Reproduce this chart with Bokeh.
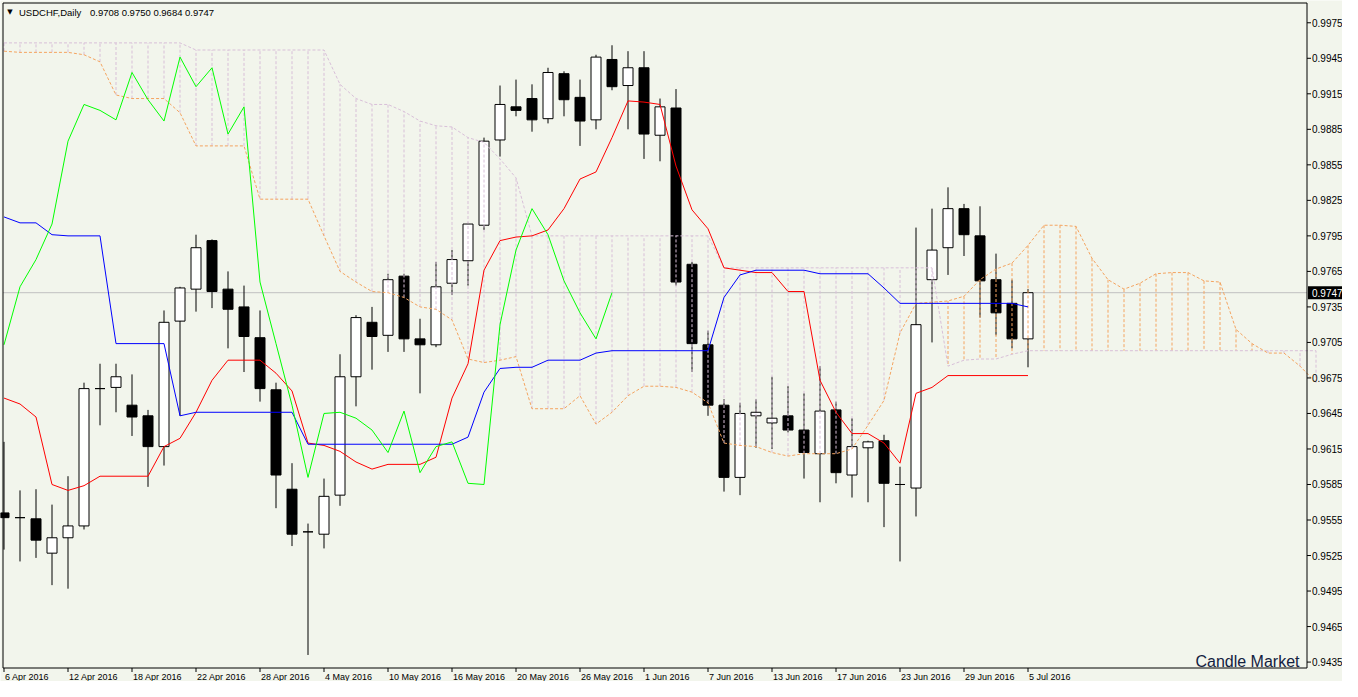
from bokeh.plotting import figure
from bokeh.models import Range1d, ColumnDataSource
from bokeh.core.properties import value
from bokeh.embed import file_html
from bokeh.resources import INLINE

BG = "#F2F5EC"

# ---- daily USDCHF candles (bar index 0 = 6 Apr 2016) ----
opens = [0.9561, 0.9557, 0.9556, 0.9527, 0.9540, 0.9550, 0.9666, 0.9667, 0.9652, 0.9643,
         0.9617, 0.9723, 0.9750, 0.9791, 0.9750, 0.9735, 0.9709, 0.9665, 0.9581, 0.9545,
         0.9543, 0.9576, 0.9676, 0.9722, 0.9711, 0.9761, 0.9708, 0.9703, 0.9755, 0.9774,
         0.9804, 0.9876, 0.9904, 0.9911, 0.9894, 0.9932, 0.9912, 0.9893, 0.9944, 0.9922,
         0.9937, 0.9880, 0.9903, 0.9771, 0.9703, 0.9652, 0.9591, 0.9643, 0.9637, 0.9643,
         0.9631, 0.9611, 0.9648, 0.9593, 0.9616, 0.9622, 0.9585, 0.9582, 0.9758, 0.9785,
         0.9818, 0.9795, 0.9758, 0.9738, 0.9708]
highs = [0.9621, 0.9580, 0.9581, 0.9568, 0.9592, 0.9671, 0.9687, 0.9687, 0.9678, 0.9648,
         0.9732, 0.9752, 0.9796, 0.9792, 0.9765, 0.9753, 0.9732, 0.9671, 0.9603, 0.9552,
         0.9590, 0.9695, 0.9728, 0.9735, 0.9763, 0.9763, 0.9725, 0.9773, 0.9783, 0.9806,
         0.9878, 0.9922, 0.9927, 0.9923, 0.9937, 0.9934, 0.9927, 0.9948, 0.9956, 0.9951,
         0.9951, 0.9911, 0.9919, 0.9773, 0.9715, 0.9657, 0.9654, 0.9657, 0.9676, 0.9668,
         0.9662, 0.9685, 0.9655, 0.9641, 0.9622, 0.9627, 0.9600, 0.9802, 0.9818, 0.9836,
         0.9822, 0.9820, 0.9780, 0.9758, 0.9750]
lows = [0.9530, 0.9520, 0.9523, 0.9500, 0.9497, 0.9547, 0.9635, 0.9646, 0.9626, 0.9583,
        0.9601, 0.9643, 0.9731, 0.9734, 0.9700, 0.9680, 0.9655, 0.9565, 0.9533, 0.9441,
        0.9531, 0.9567, 0.9651, 0.9682, 0.9697, 0.9697, 0.9662, 0.9701, 0.9745, 0.9753,
        0.9800, 0.9862, 0.9896, 0.9883, 0.9890, 0.9896, 0.9871, 0.9885, 0.9918, 0.9885,
        0.9860, 0.9858, 0.9753, 0.9680, 0.9643, 0.9579, 0.9576, 0.9616, 0.9615, 0.9629,
        0.9590, 0.9570, 0.9586, 0.9574, 0.9570, 0.9549, 0.9520, 0.9558, 0.9705, 0.9762,
        0.9778, 0.9726, 0.9711, 0.9700, 0.9684]
closes = [0.9557, 0.9557, 0.9538, 0.9540, 0.9550, 0.9666, 0.9666, 0.9676, 0.9642, 0.9617,
          0.9722, 0.9751, 0.9785, 0.9748, 0.9733, 0.9710, 0.9666, 0.9593, 0.9543, 0.9545,
          0.9575, 0.9676, 0.9726, 0.9710, 0.9758, 0.9708, 0.9703, 0.9752, 0.9775, 0.9805,
          0.9875, 0.9906, 0.9901, 0.9893, 0.9933, 0.9910, 0.9892, 0.9946, 0.9921, 0.9937,
          0.9881, 0.9904, 0.9756, 0.9704, 0.9652, 0.9591, 0.9645, 0.9646, 0.9641, 0.9631,
          0.9612, 0.9647, 0.9595, 0.9617, 0.9621, 0.9586, 0.9585, 0.9720, 0.9783, 0.9818,
          0.9796, 0.9757, 0.9730, 0.9708, 0.9747]

# ---- Ichimoku lines ----
tenkan = [0.9658, 0.9653, 0.9642, 0.9585, 0.9580, 0.9584, 0.9592, 0.9592, 0.9592, 0.9592,
          0.9617, 0.9624, 0.9646, 0.9673, 0.9690, 0.9690, 0.9690, 0.9679, 0.9664, 0.9620,
          0.9618, 0.9613, 0.9604, 0.9598, 0.9602, 0.9602, 0.9602, 0.9608, 0.9658, 0.9687,
          0.9766, 0.9791, 0.9794, 0.9795, 0.9800, 0.9818, 0.9843, 0.9849, 0.9878, 0.9909,
          0.9908, 0.9906, 0.9854, 0.9817, 0.9801, 0.9768, 0.9766, 0.9764, 0.9764, 0.9748,
          0.9748, 0.9673, 0.9646, 0.9628, 0.9628, 0.9620, 0.9603, 0.9662, 0.9667, 0.9677,
          0.9677, 0.9677, 0.9677, 0.9677, 0.9677]
kijun = [0.9811, 0.9806, 0.9806, 0.9796, 0.9795, 0.9795, 0.9795, 0.9704, 0.9704, 0.9704,
         0.9704, 0.9643, 0.9646, 0.9646, 0.9646, 0.9646, 0.9646, 0.9646, 0.9646, 0.9619,
         0.9619, 0.9619, 0.9619, 0.9619, 0.9619, 0.9619, 0.9619, 0.9619, 0.9619, 0.9625,
         0.9663, 0.9683, 0.9684, 0.9684, 0.9690, 0.9690, 0.9690, 0.9696, 0.9698, 0.9698,
         0.9698, 0.9698, 0.9698, 0.9698, 0.9698, 0.9743, 0.9762, 0.9766, 0.9766, 0.9766,
         0.9766, 0.9763, 0.9763, 0.9763, 0.9763, 0.9751, 0.9738, 0.9738, 0.9738, 0.9738,
         0.9738, 0.9738, 0.9738, 0.9738, 0.9735]
chikou = [0.9703, 0.9752, 0.9775, 0.9805, 0.9875, 0.9906, 0.9901, 0.9893, 0.9933, 0.9910,
          0.9892, 0.9946, 0.9921, 0.9937, 0.9881, 0.9904, 0.9756, 0.9704, 0.9652, 0.9591,
          0.9645, 0.9646, 0.9641, 0.9631, 0.9612, 0.9647, 0.9595, 0.9617, 0.9621, 0.9586,
          0.9585, 0.9720, 0.9783, 0.9818, 0.9796, 0.9757, 0.9730, 0.9708, 0.9747]
span_a = [0.9951, 0.9950, 0.9950, 0.9950, 0.9950, 0.9948, 0.9942, 0.9914, 0.9911, 0.9911,
          0.9911, 0.9899, 0.9871, 0.9871, 0.9871, 0.9871, 0.9826, 0.9826, 0.9826, 0.9826,
          0.9795, 0.9765, 0.9756, 0.9748, 0.9747, 0.9743, 0.9735, 0.9733, 0.9724, 0.9691,
          0.9688, 0.9690, 0.9693, 0.9649, 0.9649, 0.9649, 0.9660, 0.9636, 0.9646, 0.9660,
          0.9668, 0.9668, 0.9667, 0.9663, 0.9654, 0.9620, 0.9618, 0.9617, 0.9612, 0.9609,
          0.9611, 0.9611, 0.9611, 0.9615, 0.9635, 0.9656, 0.9713, 0.9738, 0.9739, 0.9740,
          0.9744, 0.9758, 0.9767, 0.9772, 0.9787, 0.9804, 0.9804, 0.9803, 0.9776, 0.9758,
          0.9750, 0.9755, 0.9763, 0.9764, 0.9764, 0.9757, 0.9756, 0.9716, 0.9704, 0.9696,
          0.9696, 0.9685, 0.9671]
span_b = [0.9958, 0.9958, 0.9958, 0.9958, 0.9958, 0.9958, 0.9958, 0.9958, 0.9958, 0.9958,
          0.9958, 0.9958, 0.9952, 0.9952, 0.9952, 0.9952, 0.9952, 0.9952, 0.9952, 0.9952,
          0.9952, 0.9923, 0.9911, 0.9906, 0.9906, 0.9900, 0.9892, 0.9888, 0.9887, 0.9878,
          0.9874, 0.9860, 0.9844, 0.9795, 0.9795, 0.9795, 0.9795, 0.9795, 0.9795, 0.9795,
          0.9795, 0.9795, 0.9795, 0.9795, 0.9795, 0.9768, 0.9768, 0.9768, 0.9768, 0.9768,
          0.9768, 0.9768, 0.9768, 0.9768, 0.9768, 0.9768, 0.9768, 0.9768, 0.9768, 0.9685,
          0.9690, 0.9691, 0.9691, 0.9695, 0.9698, 0.9698, 0.9698, 0.9698, 0.9698, 0.9698,
          0.9698, 0.9698, 0.9698, 0.9698, 0.9698, 0.9698, 0.9698, 0.9698, 0.9698, 0.9698,
          0.9698, 0.9698, 0.9698]

price_ticks = [0.9435, 0.9465, 0.9495, 0.9525, 0.9555, 0.9585, 0.9615, 0.9645, 0.9675, 0.9705,
               0.9735, 0.9765, 0.9795, 0.9825, 0.9855, 0.9885, 0.9915, 0.9945, 0.9975]
date_tick_bars = [0, 4, 8, 12, 16, 20, 24, 28, 32, 36, 40, 44, 48, 52, 56, 60, 64]
date_labels = ["6 Apr 2016", "12 Apr 2016", "18 Apr 2016", "22 Apr 2016", "28 Apr 2016",
               "4 May 2016", "10 May 2016", "16 May 2016", "20 May 2016", "26 May 2016",
               "1 Jun 2016", "7 Jun 2016", "13 Jun 2016", "17 Jun 2016", "23 Jun 2016",
               "29 Jun 2016", "5 Jul 2016"]
symbol_text = "USDCHF,Daily"
brand_text = "Candle Market"

bars = list(range(len(closes)))
cloud_bars = list(range(len(span_a)))
chikou_bars = list(range(len(chikou)))

# ---- layout (canvas pixels) ----
W, H = 1342, 681
BPX = 16.0                      # pixels per bar
L_PX, R_PX = 2.5, 1306.5        # chart border (line centres)
T_PX, B_PX = 2.5, 667.5
X0 = -1.0 / BPX                 # bar 0 sits 1 px right of the left border
X1 = X0 + (R_PX - L_PX) / BPX
Y1, Y0 = 0.99917, 0.9430
PP = (B_PX - T_PX) / (Y1 - Y0)  # pixels per price unit


def hx(px):
    return X0 + (px - L_PX) / BPX


def vy(py):
    return Y1 - (py - T_PX) / PP


p = figure(width=W, height=H, x_range=Range1d(hx(0), hx(W)), y_range=Range1d(vy(H), vy(0)),
           output_backend="svg", toolbar_location=None, x_axis_location=None,
           y_axis_location=None, min_border=0, min_border_left=0, min_border_right=0,
           min_border_top=0, min_border_bottom=0, outline_line_color=None,
           background_fill_color=BG, border_fill_color=BG)
p.grid.visible = False

FONT = value("Liberation Sans")

# current price line
p.segment(x0=[X0], y0=[closes[-1]], x1=[X1], y1=[closes[-1]], line_color="#C0C0C0", line_width=1)

# candles
body_top = [max(o, c) for o, c in zip(opens, closes)]
body_bot = [min(o, c) for o, c in zip(opens, closes)]
body_fill = ["white" if c >= o else "black" for o, c in zip(opens, closes)]
src = ColumnDataSource(dict(x=bars, h=highs, l=lows, top=body_top, bottom=body_bot, fill=body_fill))
p.segment(x0="x", y0="l", x1="x", y1="h", source=src, line_color="black", line_width=1)
p.vbar(x="x", width=10.0 / BPX, top="top", bottom="bottom", fill_color="fill",
       line_color="black", line_width=1, source=src)

# Ichimoku cloud
hatch_col = ["#F4A460" if a >= b else "#D8BFD8" for a, b in zip(span_a, span_b)]
csrc = ColumnDataSource(dict(x=cloud_bars, a=span_a, b=span_b, col=hatch_col))
p.segment(x0="x", y0="a", x1="x", y1="b", line_color="col", line_dash="3 2",
          line_width=1, source=csrc)
p.line(cloud_bars, span_b, line_color="#D8BFD8", line_dash="3 2", line_width=1)
p.line(cloud_bars, span_a, line_color="#F4A460", line_dash="3 2", line_width=1)

# tenkan / kijun / chikou
p.line(bars, tenkan, line_color="#FF0000", line_width=1)
p.line(bars, kijun, line_color="#0000FF", line_width=1)
p.line(chikou_bars, chikou, line_color="#00FF00", line_width=1)

# chart border
p.quad(left=[X0], right=[X1], top=[Y1], bottom=[Y0], fill_color=None,
       line_color="black", line_width=1)

# price scale (right)
n_pt = len(price_ticks)
p.segment(x0=[X1] * n_pt, y0=price_ticks, x1=[hx(R_PX + 4)] * n_pt, y1=price_ticks,
          line_color="black", line_width=1)
p.text(x=[hx(R_PX + 5)] * n_pt, y=price_ticks, text=["%.4f" % t for t in price_ticks],
       text_font=FONT, text_font_size="10px", text_align="left", text_baseline="middle",
       text_color="black")

# time scale (bottom)
n_dt = len(date_tick_bars)
p.segment(x0=date_tick_bars, y0=[Y0] * n_dt, x1=date_tick_bars, y1=[vy(B_PX + 4)] * n_dt,
          line_color="black", line_width=1)
p.text(x=[k + 1.0 / BPX for k in date_tick_bars], y=[vy(B_PX + 9)] * n_dt, text=date_labels,
       text_font=FONT, text_font_size="9px", text_align="left", text_baseline="middle",
       text_color="black")

# current price box
p.quad(left=[hx(R_PX + 1)], right=[hx(W + 2)], top=[closes[-1] + 6.5 / PP],
       bottom=[closes[-1] - 6.5 / PP], fill_color="black", line_color=None)
p.text(x=[hx(R_PX + 5)], y=[closes[-1]], text=["%.4f" % closes[-1]], text_font=FONT,
       text_font_size="10px", text_align="left", text_baseline="middle", text_color="white")

# header
p.text(x=[hx(9.5)], y=[vy(11)], text=["\u25BC"], text_font=value("DejaVu Sans"),
       text_font_size="7px", text_align="center", text_baseline="middle", text_color="black")
p.text(x=[hx(18.5)], y=[vy(12)], text=[symbol_text], text_font=FONT, text_font_size="9.5px",
       text_align="left", text_baseline="middle", text_color="black")
p.text(x=[hx(89.5)], y=[vy(12)],
       text=["%.4f %.4f %.4f %.4f" % (opens[-1], highs[-1], lows[-1], closes[-1])],
       text_font=FONT, text_font_size="9.5px", text_align="left", text_baseline="middle",
       text_color="black")

# watermark
p.text(x=[hx(1299)], y=[vy(661)], text=[brand_text], text_font=FONT, text_font_size="16px",
       text_align="right", text_baseline="alphabetic", text_color="#13213F")

open("out.html", "w").write(file_html(p, INLINE))
